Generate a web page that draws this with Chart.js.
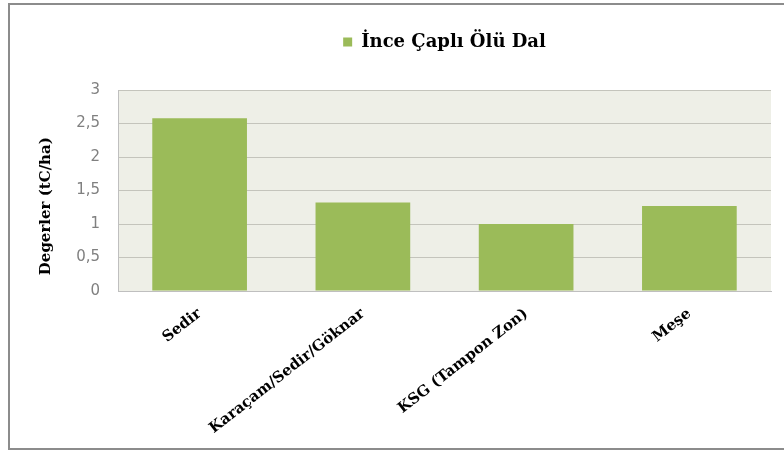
<!DOCTYPE html>
<html>
<head>
<meta charset="utf-8">
<script src="https://cdn.jsdelivr.net/npm/chart.js@4.4.0/dist/chart.umd.min.js"></script>
<style>
  html, body { margin: 0; padding: 0; background: #ffffff; overflow: hidden; }
  #wrap { position: absolute; left: 0; top: 0; width: 784px; height: 452px; overflow: hidden; }
  #frame { position: absolute; left: 8px; top: 3px; width: 776px; height: 447px;
           border: 2px solid #8c8c8c; border-right: none; box-sizing: border-box; pointer-events: none; }
</style>
</head>
<body>
<div id="wrap">
  <canvas id="c" width="784" height="452"></canvas>
  <div id="frame"></div>
</div>
<script>
const categories = ["Sedir", "Karaçam/Sedir/Göknar", "KSG (Tampon Zon)", "Meşe"];
const seriesName = "İnce Çaplı Ölü Dal";
const seriesValues = [2.58, 1.32, 1.0, 1.27];
const yTicks = [0, 0.5, 1, 1.5, 2, 2.5, 3];
const yTitle = "Degerler (tC/ha)";

const plotBg = {
  id: 'plotBg',
  beforeDraw(chart) {
    const { ctx, chartArea: a } = chart;
    ctx.save();
    ctx.fillStyle = '#eeefe7';
    ctx.fillRect(a.left, a.top, a.right - a.left, a.bottom - a.top);
    ctx.restore();
  }
};

new Chart(document.getElementById('c'), {
  type: 'bar',
  data: {
    labels: categories,
    datasets: [{
      label: seriesName,
      data: seriesValues,
      backgroundColor: '#9bbb59',
      borderWidth: 0,
      categoryPercentage: 1.0,
      barPercentage: 0.58
    }]
  },
  options: {
    responsive: false,
    animation: false,
    layout: { padding: { top: 23, right: 13, bottom: 0, left: 0 } },
    plugins: {
      tooltip: { enabled: false },
      legend: {
        position: 'top',
        weight: 3000,
        fullSize: false,
        labels: {
          boxWidth: 9, boxHeight: 9, padding: 10,
          color: '#000000',
          font: { family: 'DejaVu Serif', size: 18, weight: 'bold' }
        }
      },
      title: {
        display: true,
        text: ' ',
        fullSize: false,
        font: { size: 1, lineHeight: 1 },
        padding: { top: 14, bottom: 14 }
      }
    },
    scales: {
      x: {
        grid: { display: false, drawTicks: false },
        border: { display: true, color: '#bfbfbf', width: 1 },
        ticks: {
          color: '#000000', minRotation: 38, maxRotation: 38, padding: 14,
          font: { family: 'DejaVu Serif', size: 15, weight: 'bold' }
        },
        afterFit(scale) { scale.height = 161; }
      },
      y: {
        min: 0, max: 3,
        afterBuildTicks(scale) { scale.ticks = yTicks.map(v => ({ value: v })); },
        grid: { color: '#c4c4bc', lineWidth: 1, drawTicks: false },
        border: { display: true, color: '#bfbfbf', width: 1 },
        ticks: {
          color: '#808080', padding: 18,
          font: { family: 'DejaVu Sans', size: 15 },
          callback: (v) => String(v).replace('.', ',')
        },
        title: {
          display: true, text: yTitle + '      ', color: '#000000',
          padding: { top: 37, bottom: 0 },
          font: { family: 'DejaVu Serif', size: 15, weight: 'bold' }
        },
        afterFit(scale) { scale.width = 118; }
      }
    }
  },
  plugins: [plotBg]
});
</script>
</body>
</html>
